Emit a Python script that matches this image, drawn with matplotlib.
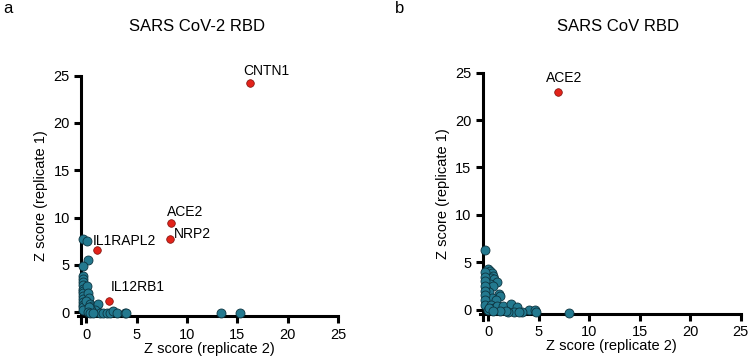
import matplotlib
matplotlib.use("Agg")
import matplotlib.pyplot as plt

plt.rcParams['font.family'] = ['Liberation Sans', 'DejaVu Sans']

# Panel a: SARS CoV-2 RBD
a_blue_x = [-0.33, 0.03, 0.13, -0.3, -0.3, -0.3, -0.3, -0.3, -0.3, -0.3, -0.3, -0.3, -0.3, -0.3, -0.3, -0.3, -0.3,
            0.07, 0.1, 0.2, 0.0, 0.3, 0.5, 0.6, 0.9, 1.1, 0.8, 0.4, 0.2, 1.3, 1.6, 2.0, 2.3, 2.6, 3.0, 3.8, 3.9,
            0.1, 0.3, 0.6, 13.36, 15.3]
a_blue_y = [7.74, 7.53, 5.53, 4.93, 3.8, 3.5, 3.2, 2.9, 2.5, 2.2, 2.0, 1.7, 1.4, 1.1, 0.8, 0.5, 0.2,
            2.74, 2.0, 1.5, 1.2, 0.9, 0.7, 0.4, 0.6, 0.88, 0.2, 0.2, 0.5, -0.1, -0.1, -0.1, -0.1, 0.1, -0.1, -0.1, -0.1,
            0.0, -0.1, -0.1, -0.07, -0.07]
a_red_x = [16.24, 8.43, 8.27, 1.06, 2.28]
a_red_y = [24.23, 9.43, 7.7, 6.6, 1.23]
a_red_labels = ["CNTN1", "ACE2", "NRP2", "IL1RAPL2", "IL12RB1"]

# Panel b: SARS CoV RBD
b_blue_x = [-0.33, 0.0, 0.2, 0.4, 0.5, 0.3, 0.6, 0.9, 0.2, 0.5, -0.2, 0.1, 1.1, 1.2, 0.4, 0.8, -0.3, -0.3, -0.3,
            -0.3, -0.3, -0.3, -0.3, -0.3, 0.0, 0.3, 0.6, 0.9, 1.5, 2.2, 2.8, 4.0, 4.6, 4.7, 3.3, 2.5, 2.0, 1.8,
            1.2, 3.0, 0.1, 0.5, 8.0]
b_blue_y = [6.27, 4.3, 4.1, 3.9, 3.6, 3.3, 3.2, 2.9, 2.7, 2.5, 2.2, 1.9, 1.7, 1.4, 1.2, 1.0, 4.0, 3.5, 3.0,
            2.5, 2.0, 1.5, 1.0, 0.5, 0.0, 0.5, 0.2, 0.4, 0.4, 0.6, 0.3, 0.0, 0.0, -0.2, -0.2, -0.2, -0.2, -0.1,
            -0.1, -0.2, 0.2, -0.1, -0.32]
b_red_x = [6.87]
b_red_y = [22.94]
b_red_labels = ["ACE2"]

a_label_pos = [(17.9, 25.5, 'center'), (9.85, 10.55, 'center'), (8.7, 8.3, 'left'),
               (0.6, 7.5, 'left'), (2.4, 2.65, 'left')]
b_label_pos = [(7.5, 24.4, 'center')]

ticks = [0, 5, 10, 15, 20, 25]
teal = '#23798f'
red = '#e2231a'

fig = plt.figure(figsize=(7.49, 3.56), dpi=100)


def make_panel(rect, bx, by, rx, ry, labels, lpos, title, title_x, letter, letter_x):
    ax = fig.add_axes(rect)
    ax.scatter(bx, by, s=42, c=teal, edgecolors='#0d3440', linewidths=0.6, zorder=3, clip_on=False)
    ax.scatter(rx, ry, s=30, c=red, edgecolors='#7a0f0a', linewidths=0.5, zorder=4, clip_on=False)
    for lab, (x, y, ha) in zip(labels, lpos):
        ax.text(x, y, lab, ha=ha, va='center', fontsize=10)
    ax.set_xlim(-0.55, 25)
    ax.set_ylim(-0.45, 25)
    for s in ['top', 'right']:
        ax.spines[s].set_visible(False)
    ax.spines['left'].set_linewidth(2.2)
    ax.spines['bottom'].set_linewidth(2.2)
    ax.spines['left'].set_bounds(-1.1, 25)
    ax.spines['bottom'].set_bounds(-0.85, 25)
    ax.set_xticks(ticks)
    ax.set_yticks(ticks)
    ax.tick_params(direction='out', length=5, width=2.2, labelsize=10.5, pad=3)
    ax.tick_params(axis='x', pad=3)
    ax.set_xlabel('Z score (replicate 2)', fontsize=10.5, labelpad=0)
    ax.set_ylabel('Z score (replicate 1)', fontsize=10.5, labelpad=4)
    fig.text(title_x, 0.925, title, ha='center', va='center', fontsize=12)
    fig.text(letter_x, 0.975, letter, ha='left', va='center', fontsize=12)
    return ax


make_panel([0.1081, 0.111, 0.3431, 0.6764], a_blue_x, a_blue_y, a_red_x, a_red_y, a_red_labels,
           a_label_pos, 'SARS CoV-2 RBD', 197 / 749, 'a', 3 / 749)
make_panel([0.6445, 0.118, 0.3445, 0.678], b_blue_x, b_blue_y, b_red_x, b_red_y, b_red_labels,
           b_label_pos, 'SARS CoV RBD', 618 / 749, 'b', 395 / 749)

fig.savefig('out.png', dpi=100)
